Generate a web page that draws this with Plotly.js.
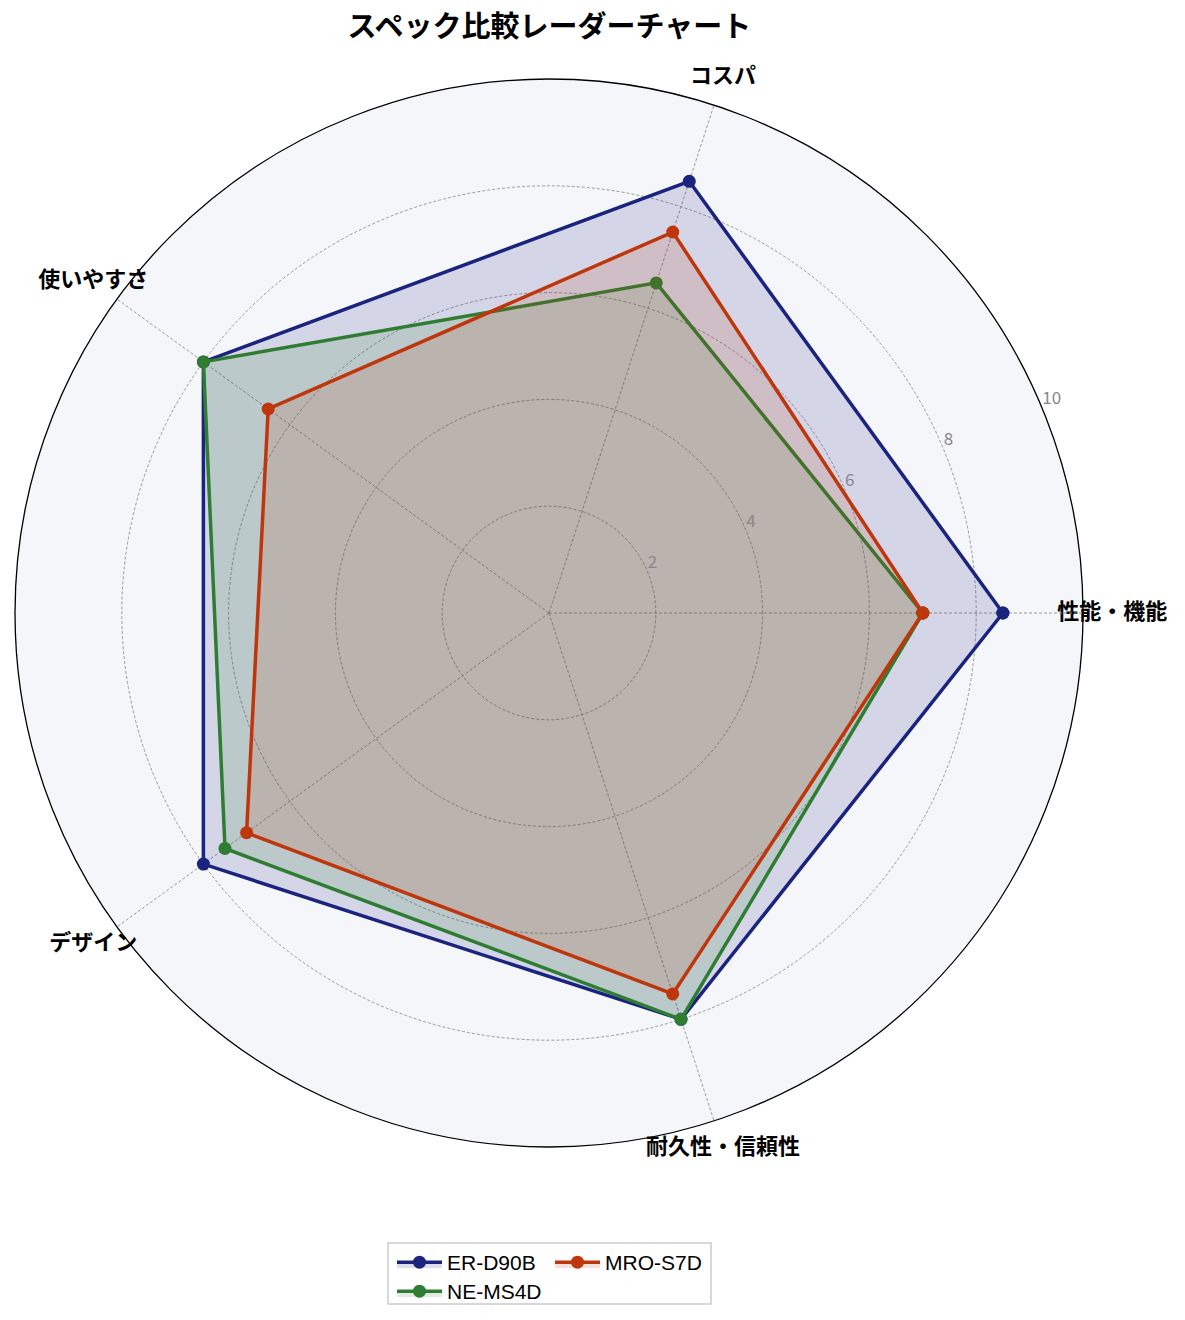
<!DOCTYPE html>
<html>
<head>
<meta charset="utf-8">
<script src="https://cdn.plot.ly/plotly-3.0.1.min.js"></script>
<style>body{margin:0;background:#fff;}</style>
</head>
<body>
<div id="radar" style="width:1185px;height:1320px;"></div>
<script>
var categories = ['性能・機能', 'コスパ', '使いやすさ', 'デザイン', '耐久性・信頼性'];
var erD90B = [8.5, 8.5, 8.0, 8.0, 8.0];
var neMS4D = [7.0, 6.5, 8.0, 7.5, 8.0];
var mroS7D = [7.0, 7.5, 6.5, 7.0, 7.5];
var radialTicks = [2, 4, 6, 8, 10];
var labelRadius = 10.55;
var rLabelAngle = 22.5;

// angle of each category, counterclockwise from the right
var angles = categories.map(function (c, i) { return i * 360 / categories.length; });

function closed(arr) { return arr.concat([arr[0]]); }

function series(name, values, color, fill, legend, rank) {
	return {
		type: 'scatterpolar',
		mode: 'lines+markers',
		name: name,
		r: closed(values),
		theta: closed(angles),
		fill: 'toself',
		fillcolor: fill,
		line: {color: color, width: 3.5},
		marker: {color: color, size: 13},
		legend: legend,
		legendrank: rank,
		hoverinfo: 'skip'
	};
}

var data = [
	series('ER-D90B', erD90B, '#1a237e', 'rgba(26,35,126,0.15)', 'legend', 1),
	series('NE-MS4D', neMS4D, '#2e7d32', 'rgba(46,125,50,0.15)', 'legend2', 1),
	series('MRO-S7D', mroS7D, '#bf360c', 'rgba(191,54,12,0.15)', 'legend', 2),
	{
		// radial tick labels, just above the 22.5 degree ray
		type: 'scatterpolar',
		mode: 'text',
		r: radialTicks,
		theta: radialTicks.map(function () { return rLabelAngle; }),
		text: radialTicks.map(String),
		textposition: 'top right',
		textfont: {family: 'Noto Sans CJK JP', size: 17, color: '#888888'},
		cliponaxis: false,
		showlegend: false,
		hoverinfo: 'skip'
	},
	{
		// category labels outside the outer ring, on a hidden x/y frame that shares the polar scale
		type: 'scatter',
		mode: 'text',
		x: angles.map(function (a) { return labelRadius * Math.cos(a * Math.PI / 180); }),
		y: angles.map(function (a) { return labelRadius * Math.sin(a * Math.PI / 180); }),
		text: categories,
		textposition: 'middle center',
		textfont: {family: 'Noto Sans CJK JP', size: 22, color: '#000', weight: 'bold'},
		cliponaxis: false,
		showlegend: false,
		hoverinfo: 'skip'
	}
];

// page is 1185 x 1320, disc centre (549, 613), radius 534 px for r = 10
var W = 1185, H = 1320, cx = 549, cy = 613, R = 534;
var unit = R / 10;

var layout = {
	width: W,
	height: H,
	paper_bgcolor: '#ffffff',
	plot_bgcolor: 'rgba(0,0,0,0)',
	margin: {l: 0, r: 0, t: 0, b: 0},
	font: {family: 'Noto Sans CJK JP', color: '#000'},
	title: {
		text: '<b>スペック比較レーダーチャート</b>',
		font: {family: 'Noto Sans CJK JP', size: 29, color: '#000'},
		xref: 'container', yref: 'container',
		x: 0.4636, xanchor: 'center',
		y: 0.9795, yanchor: 'middle'
	},
	xaxis: {domain: [0, 1], range: [-cx / unit, (W - cx) / unit], visible: false, fixedrange: true},
	yaxis: {domain: [0, 1], range: [-(H - cy) / unit, cy / unit], visible: false, fixedrange: true},
	polar: {
		domain: {x: [(cx - R) / W, (cx + R) / W], y: [(H - cy - R) / H, (H - cy + R) / H]},
		bgcolor: 'rgba(0,0,0,0)',
		angularaxis: {
			type: 'linear',
			thetaunit: 'degrees',
			tickmode: 'array',
			tickvals: angles,
			ticktext: categories,
			rotation: 0,
			direction: 'counterclockwise',
			showline: true,
			linecolor: '#000',
			linewidth: 1.3,
			showgrid: true,
			gridcolor: '#999999',
			griddash: '3px,2px',
			gridwidth: 0.7,
			ticks: '',
			showticklabels: false
		},
		radialaxis: {
			range: [0, 10],
			angle: rLabelAngle,
			tickvals: radialTicks,
			showticklabels: false,
			showline: false,
			ticks: '',
			gridcolor: '#999999',
			griddash: '3px,2px',
			gridwidth: 0.7
		}
	},
	showlegend: true,
	legend: {
		orientation: 'h',
		x: 0.3308, xanchor: 'left',
		y: 0.0591, yanchor: 'top',
		itemwidth: 45,
		entrywidth: 98,
		bgcolor: 'rgba(0,0,0,0)',
		font: {family: 'Liberation Sans', size: 21, color: '#000'},
		traceorder: 'normal'
	},
	legend2: {
		orientation: 'h',
		x: 0.3308, xanchor: 'left',
		y: 0.0371, yanchor: 'top',
		itemwidth: 45,
		entrywidth: 98,
		bgcolor: 'rgba(0,0,0,0)',
		font: {family: 'Liberation Sans', size: 21, color: '#000'}
	},
	shapes: [
		{
			// disc background
			type: 'circle', xref: 'x', yref: 'y',
			x0: -10, x1: 10, y0: -10, y1: 10,
			fillcolor: '#f5f6fa',
			line: {width: 0},
			layer: 'below'
		},
		{
			// legend frame
			type: 'rect', xref: 'paper', yref: 'paper',
			x0: 0.3274, x1: 0.6, y0: 0.0121, y1: 0.0583,
			line: {color: '#cccccc', width: 1.5},
			fillcolor: 'rgba(255,255,255,0.8)',
			layer: 'below'
		}
	]
};

Plotly.newPlot('radar', data, layout, {displayModeBar: false});
</script>
</body>
</html>
